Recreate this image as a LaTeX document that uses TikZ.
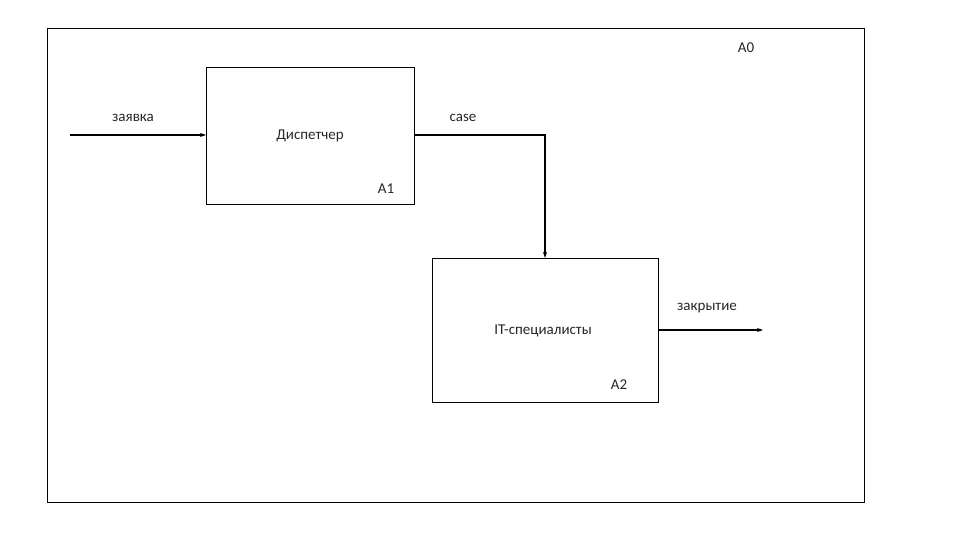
\documentclass[tikz,border=0pt]{standalone}
\usepackage{fontspec}
\setmainfont{Carlito}
\usetikzlibrary{arrows.meta}
\begin{document}
\begin{tikzpicture}[x=1pt,y=-1pt,
  box/.style={draw,line width=0.7pt},
  lbl/.style={font=\fontsize{15}{17}\selectfont,inner sep=0pt,text=black!85},
  arr/.style={draw,line width=1.1pt,-{Stealth[length=6pt,width=4pt]}}]
\useasboundingbox (0,0) rectangle (960,540);
\draw[line width=0.7pt] (47,28) rectangle (864,502);
\node[box,minimum width=208pt,minimum height=137pt,anchor=north west] (a1) at (206,67) {};
\node[box,minimum width=226pt,minimum height=144pt,anchor=north west] (a2) at (432,258) {};
\coordinate (in) at (70,135);
\coordinate (out) at (763,330);
\coordinate (bend) at (545,135);
\draw[arr] (in) -- (a1.west |- in);
\draw[arr] (a1.east |- bend) -- (bend) -- (bend |- a2.north);
\draw[arr] (a2.east |- out) -- (out);
\node[lbl] (t0) at (746,48) {A0};
\node[lbl] (t1) at (133,118) {заявка};
\node[lbl] (t2) at (310,136) {Диспетчер};
\node[lbl] (t3) at (386,189) {A1};
\node[lbl] (t4) at (463,118) {case};
\node[lbl] (t5) at (543,331) {IT-специалисты};
\node[lbl] (t6) at (619,385) {A2};
\node[lbl] (t7) at (707,308) {закрытие};
\end{tikzpicture}
\end{document}
